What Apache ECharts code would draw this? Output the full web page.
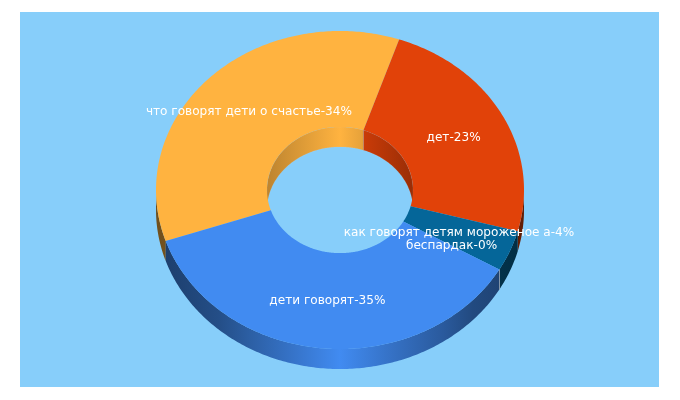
<!DOCTYPE html>
<html>
<head>
<meta charset="utf-8">
<style>html,body{margin:0;padding:0;background:#fff}#chart{width:680px;height:400px}</style>
<script src="https://cdn.jsdelivr.net/npm/echarts@6/dist/echarts.min.js"></script>
</head>
<body>
<div id="chart"></div>
<script>
const categories = ['что говорят дети о счастье', 'дет', 'как говорят детям мороженое а', 'беспардак', 'дети говорят'];
const values = [34, 23, 4, 0, 35];
const palette = ['#FFB340', '#E14209', '#056699', '#05668F', '#418BF1'];

const CX = 340, CY = 190, RX = 184, RY = 159, HOLE = 0.397, DEPTH = 20, START = 251.25;
const LABEL_R = 0.7;
const total = values.reduce((a, b) => a + b, 0);

const spans = [];
values.reduce((acc, v) => {
  const a1 = acc + v / total * 360;
  spans.push([acc, a1]);
  return a1;
}, START);

function pt(deg, k, dy) {
  const t = deg * Math.PI / 180;
  return [CX + RX * k * Math.sin(t), CY - RY * k * Math.cos(t) + (dy || 0)];
}
function arc(a0, a1, k, dy) {
  const n = Math.max(1, Math.ceil(Math.abs(a1 - a0) / 0.75));
  const out = [];
  for (let i = 0; i <= n; i++) out.push(pt(a0 + (a1 - a0) * i / n, k, dy));
  return out;
}
function shade(hex, f) {
  const n = parseInt(hex.slice(1), 16);
  const c = [n >> 16, (n >> 8) & 255, n & 255].map(v => Math.round(v * f));
  return 'rgb(' + c.join(',') + ')';
}
function wallFill(color, x0, x1, stops) {
  return new echarts.graphic.LinearGradient(x0, 0, x1, 0,
    stops.map(s => ({ offset: s[0], color: shade(color, s[1]) })), true);
}
function clip(a0, a1, windows) {
  const res = [];
  windows.forEach(w => {
    const lo = Math.max(a0, w[0]), hi = Math.min(a1, w[1]);
    if (hi >= lo) res.push([lo, hi]);
  });
  return res;
}
const OUTER_WINDOWS = [[90, 270], [450, 630]];
const INNER_WINDOWS = [[270, 450]];
const OUTER_STOPS = [[0, .44], [.065, .48], [.17, .56], [.255, .68], [.37, .83], [.5, 1], [.63, .83], [.78, .65], [.86, .53], [1, .44]];
const INNER_STOPS = [[0, .74], [.5, 1], [1, .68]];

function wallsItem(params) {
  const i = params.dataIndex, s = spans[i], color = palette[i];
  const children = [];
  clip(s[0], s[1], INNER_WINDOWS).forEach(c => {
    const top = arc(c[0], c[1], HOLE, 0), bot = arc(c[1], c[0], HOLE, DEPTH);
    children.push({
      type: 'polygon', shape: { points: top.concat(bot) },
      style: { fill: wallFill(color, CX - RX * HOLE, CX + RX * HOLE, INNER_STOPS), stroke: 'rgba(210,210,210,0.25)', lineWidth: 0.6 }
    });
  });
  clip(s[0], s[1], OUTER_WINDOWS).forEach(c => {
    const top = arc(c[0], c[1], 1, 0), bot = arc(c[1], c[0], 1, DEPTH);
    const empty = c[1] === c[0];
    children.push({
      type: 'polygon', shape: { points: top.concat(bot) },
      style: { fill: wallFill(color, CX - RX, CX + RX, OUTER_STOPS), stroke: empty ? 'rgba(205,205,205,0.75)' : null, lineWidth: empty ? 1 : 0 }
    });
  });
  return { type: 'group', children: children };
}
function topItem(params) {
  const i = params.dataIndex, s = spans[i];
  if (s[1] === s[0]) return null;
  const pts = arc(s[0], s[1], 1, 0).concat(arc(s[1], s[0], HOLE, 0));
  return { type: 'polygon', shape: { points: pts }, style: { fill: palette[i] } };
}
function labelItem(params, api) {
  const i = params.dataIndex, s = spans[i];
  const p = pt((s[0] + s[1]) / 2, LABEL_R, 0.5);
  return {
    type: 'text',
    style: {
      x: p[0], y: p[1], text: categories[i] + '-' + api.value(0) + '%',
      fill: '#fff', font: '12.1px "DejaVu Sans"', align: 'center', verticalAlign: 'middle'
    }
  };
}

const seriesData = values.map((v, i) => ({ name: categories[i], value: v }));
const chart = echarts.init(document.getElementById('chart'), null, { renderer: 'canvas' });
chart.setOption({
  animation: false,
  backgroundColor: '#fff',
  graphic: [{ type: 'rect', z: -10, silent: true, shape: { x: 20, y: 12, width: 639, height: 375 }, style: { fill: '#87CEFA' } }],
  series: [
    { type: 'custom', coordinateSystem: 'none', silent: true, z: 1, data: seriesData, renderItem: wallsItem },
    { type: 'custom', coordinateSystem: 'none', silent: true, z: 2, data: seriesData, renderItem: topItem },
    { type: 'custom', coordinateSystem: 'none', silent: true, z: 3, data: seriesData, renderItem: labelItem }
  ]
});
</script>
</body>
</html>
